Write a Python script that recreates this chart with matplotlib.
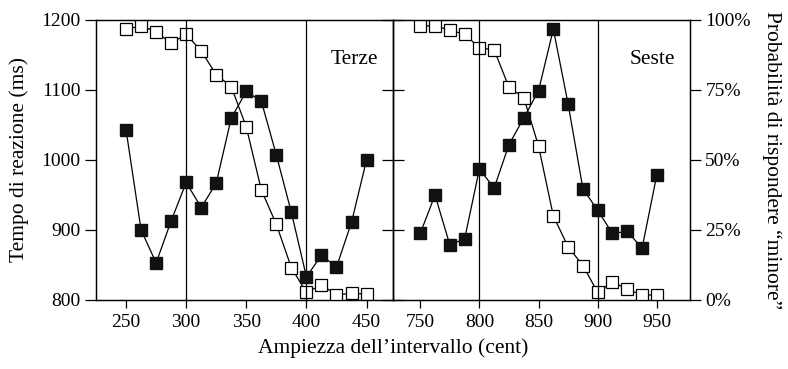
import numpy as np
import matplotlib.pyplot as plt

plt.rcParams['font.family'] = ['Liberation Serif', 'DejaVu Serif']
plt.rcParams['font.size'] = 14

# intervalli (cent)
terze_x = [250 + 12.5 * k for k in range(17)]
seste_x = [750 + 12.5 * k for k in range(17)]

# tempi di reazione (ms)
terze_rt = [1043, 900, 853, 913, 968, 932, 967, 1060, 1098, 1084, 1007, 925,
            833, 864, 847, 911, 1000]
seste_rt = [895, 950, 879, 887, 987, 960, 1022, 1060, 1099, 1187, 1080, 959,
            928, 895, 898, 874, 979]

# probabilita di rispondere "minore" (%)
terze_p = [96.7, 97.9, 95.8, 91.7, 94.9, 88.9, 80.5, 76.2, 61.8, 39.3, 27.0,
           11.5, 2.7, 5.4, 1.8, 2.4, 2.1]
seste_p = [97.9, 97.9, 96.4, 94.9, 90.1, 89.3, 76.0, 72.3, 55.0, 30.0, 19.0,
           12.3, 2.7, 6.5, 3.8, 1.8, 1.8]

rt_ticks = [800, 900, 1000, 1100, 1200]
p_ticks = [0, 25, 50, 75, 100]

fig = plt.figure(figsize=(7.88, 3.69), dpi=100)
ax1 = fig.add_axes([96 / 788, 69 / 369, 297 / 788, 280 / 369])
ax2 = fig.add_axes([393 / 788, 69 / 369, 297 / 788, 280 / 369])

panels = [
    (ax1, terze_x, terze_rt, terze_p, (225, 472), [250, 300, 350, 400, 450], [300, 400], 'Terze'),
    (ax2, seste_x, seste_rt, seste_p, (727, 978), [750, 800, 850, 900, 950], [800, 900], 'Seste'),
]

for i, (ax, xs, rt, pr, xlim, xt, vlines, name) in enumerate(panels):
    axt = ax.twinx()
    for v in vlines:
        ax.axvline(v, color='black', lw=0.9, zorder=1)
    ax.plot(xs, rt, color='black', lw=0.9, marker='s', ms=8.5,
            mfc='#111111', mec='#111111', zorder=3)
    axt.plot(xs, pr, color='black', lw=0.9, marker='s', ms=8.5,
             mfc='white', mec='black', mew=0.9, zorder=3)
    ax.set_xlim(*xlim)
    ax.set_ylim(800, 1200)
    axt.set_ylim(0, 100)
    ax.set_xticks(xt)
    ax.set_yticks(rt_ticks)
    axt.set_yticks(p_ticks)
    ax.tick_params(axis='x', direction='out', length=6, width=0.9, pad=4)
    for a in (ax, axt):
        for s in a.spines.values():
            s.set_linewidth(0.9)
    ax.text(0.95, 0.86, name, transform=ax.transAxes, ha='right', va='center',
            fontsize=15.5)
    if i == 0:
        ax.tick_params(axis='y', direction='out', length=8, width=0.9, pad=3)
        axt.tick_params(axis='y', direction='in', length=8, width=0.9,
                        labelright=False)
        ax.set_ylabel('Tempo di reazione (ms)', fontsize=15.5, labelpad=9)
    else:
        ax.tick_params(axis='y', direction='in', length=8, width=0.9,
                       labelleft=False)
        axt.tick_params(axis='y', direction='out', length=8, width=0.9, pad=3)
        axt.set_yticklabels([f'{t}%' for t in p_ticks])
        axt.set_ylabel('Probabilità di rispondere “minore”', fontsize=15.5,
                       rotation=-90, labelpad=22)
    ax.set_zorder(axt.get_zorder() + 1)
    ax.patch.set_visible(False)

fig.text(393 / 788, 0.03, 'Ampiezza dell’intervallo (cent)', ha='center',
         va='bottom', fontsize=15.5)

fig.savefig('out.png', dpi=100)
